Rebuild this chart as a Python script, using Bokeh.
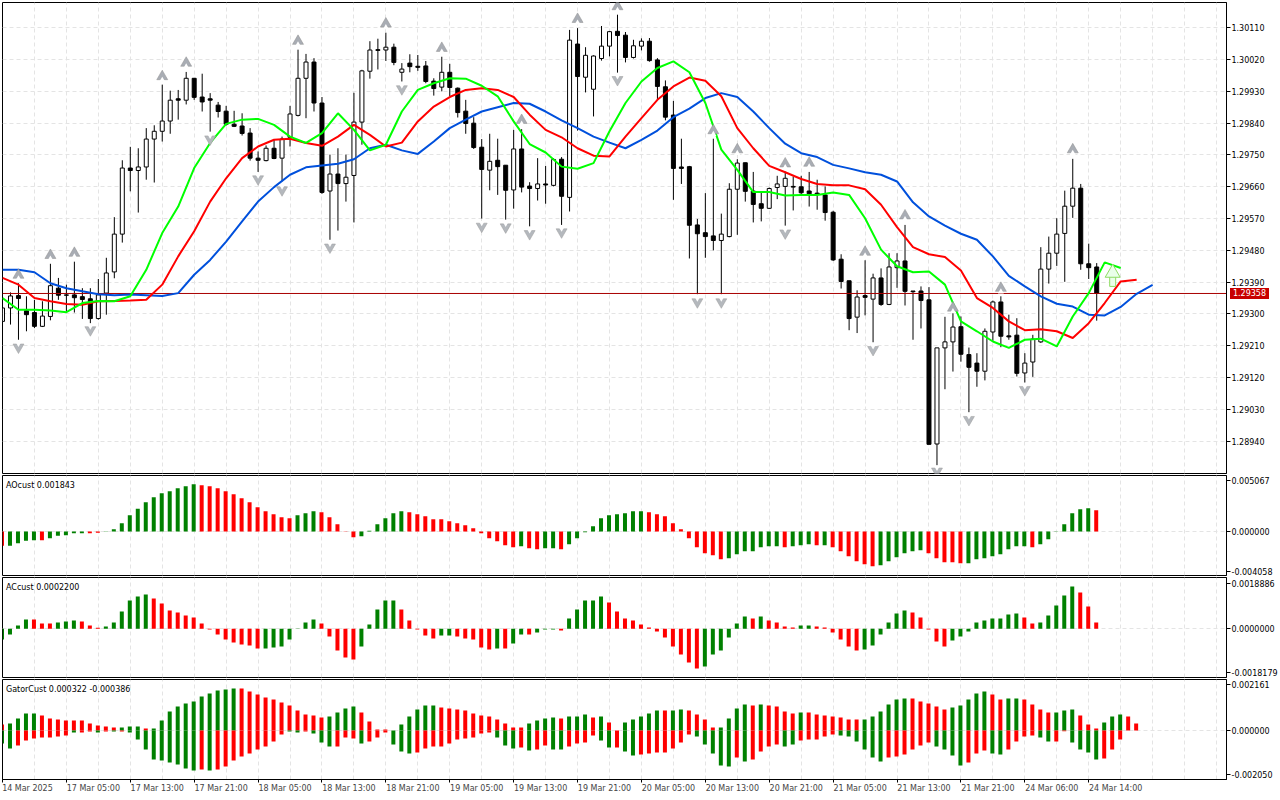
from bokeh.plotting import figure
from bokeh.layouts import column
from bokeh.embed import file_html
from bokeh.resources import INLINE
from bokeh.models import Range1d, FixedTicker, Grid, LinearAxis, Label, PrintfTickFormatter, Div
import numpy as np

# ---- price data, in points above 1.28000 (1 point = 0.00001) ----
open_pts = [1279,1317,1352,1309,1304,1265,1293,1373,1354,1354,1349,1343,1287,1359,1419,1526,1713,1706,1716,1795,
 1817,1846,1909,1905,1967,1914,1909,1891,1874,1837,1832,1812,1741,1734,1769,1741,1800,1862,1967,2013,
 1897,1648,1696,1669,1692,1843,1987,2048,2047,2055,1984,2010,2001,2002,1959,1942,1984,1939,1874,1840,
 1772,1707,1735,1721,1651,1767,1662,1655,1668,1664,1738,1630,2064,1970,1936,2023,2058,2100,2089,2026,
 2058,2072,2019,1943,1863,1716,1717,1552,1530,1521,1508,1519,1653,1728,1648,1612,1599,1658,1661,1661,
 1660,1648,1642,1637,1588,1455,1394,1291,1352,1342,1402,1327,1431,1450,1365,1365,1340,932,1204,1221,
 1264,1185,1161,1138,1249,1334,1238,1240,1133,1164,1221,1427,1472,1528,1605,1656,1442,1433]
high_pts = [1336,1361,1387,1350,1340,1336,1442,1402,1383,1448,1373,1373,1399,1459,1574,1735,1773,1769,1826,1834,
 1949,1932,1934,1985,1967,1980,1925,1900,1889,1875,1868,1826,1760,1777,1793,1802,1889,2048,2036,2024,
 1914,1751,1769,1751,1926,1991,2072,2079,2096,2065,2010,2035,2033,2016,1967,2028,2008,1941,1906,1857,
 1795,1810,1796,1721,1821,1823,1673,1741,1719,1741,1744,2104,2109,2055,2032,2115,2101,2147,2098,2076,
 2080,2081,2024,1961,1903,1796,1719,1569,1642,1796,1584,1670,1738,1728,1702,1645,1658,1691,1703,1689,
 1691,1702,1680,1661,1592,1469,1394,1367,1452,1414,1429,1472,1472,1552,1365,1378,1376,1204,1292,1331,
 1293,1205,1189,1259,1338,1350,1298,1288,1189,1241,1489,1519,1571,1649,1739,1668,1499,1444]
low_pts = [1260,1270,1227,1251,1260,1263,1282,1340,1307,1304,1286,1274,1284,1298,1401,1502,1647,1587,1680,1672,
 1788,1810,1850,1893,1906,1873,1816,1856,1833,1829,1805,1734,1702,1732,1738,1675,1774,1859,1854,1873,
 1640,1510,1536,1618,1559,1779,1966,1992,2016,2004,1958,1984,1988,1953,1918,1930,1916,1856,1810,1767,
 1570,1650,1637,1567,1598,1644,1548,1621,1612,1661,1552,1590,1819,1927,1859,2017,2029,1983,2012,2023,
 2046,2014,1906,1848,1623,1668,1457,1356,1459,1480,1356,1517,1524,1618,1559,1562,1597,1625,1550,1593,
 1637,1604,1595,1564,1450,1372,1254,1246,1296,1220,1323,1325,1374,1324,1227,1259,931,872,1087,1137,
 1165,1022,1094,1112,1224,1206,1227,1123,1106,1122,1218,1386,1436,1391,1572,1425,1399,1281]
close_pts = [1317,1351,1344,1298,1265,1294,1380,1353,1353,1346,1341,1287,1354,1416,1526,1713,1706,1716,1795,1817,
 1846,1905,1905,1967,1913,1900,1905,1873,1837,1831,1811,1741,1735,1769,1740,1795,1866,1967,2013,1897,
 1644,1696,1669,1687,1843,1988,2047,2046,2055,2012,1993,2000,1998,1958,1938,1984,1941,1870,1839,1771,
 1709,1732,1717,1650,1767,1659,1655,1668,1665,1737,1633,2075,1972,2032,2030,2058,2099,2088,2026,2059,
 2072,2017,1944,1857,1712,1712,1551,1527,1519,1508,1526,1653,1727,1647,1610,1599,1655,1668,1684,1659,
 1643,1640,1639,1587,1453,1392,1287,1348,1347,1402,1327,1433,1450,1364,1363,1338,931,1204,1221,1263,
 1186,1149,1138,1251,1334,1237,1235,1132,1161,1229,1427,1472,1526,1605,1656,1442,1431,1358]

# Alligator lines, one value every 2 bars, points above 1.28000
jaw_pts = [1425,1425,1418,1387,1373,1364,1356,1353,1355,1353,1351,1359,1411,1453,1505,1562,1618,1659,1694,1715,
 1720,1725,1738,1769,1779,1763,1753,1788,1826,1850,1873,1885,1897,1895,1873,1848,1826,1802,1785,1769,
 1793,1819,1857,1881,1911,1925,1914,1873,1826,1782,1755,1744,1722,1712,1701,1694,1675,1616,1576,1550,
 1527,1510,1463,1408,1378,1350,1329,1321,1298,1296,1320,1357,1382]
teeth_pts = [1402,1383,1345,1336,1328,1326,1336,1337,1338,1340,1383,1463,1534,1618,1684,1741,1774,1793,1796,1784,
 1776,1802,1835,1807,1774,1785,1845,1887,1914,1934,1939,1934,1914,1864,1821,1800,1769,1748,1746,1802,
 1854,1906,1944,1969,1960,1916,1826,1769,1719,1701,1682,1668,1664,1664,1653,1609,1546,1489,1469,1461,
 1423,1345,1317,1279,1254,1257,1251,1232,1274,1331,1392,1397]
lips_pts = [1345,1312,1312,1310,1305,1331,1337,1336,1350,1425,1529,1604,1713,1784,1838,1850,1852,1835,1802,1784,
 1812,1868,1821,1763,1779,1873,1934,1953,1967,1966,1946,1916,1845,1781,1757,1717,1711,1727,1817,1897,
 1958,1996,2015,1984,1897,1765,1708,1645,1645,1635,1637,1637,1644,1637,1571,1482,1435,1418,1420,1383,
 1279,1251,1222,1204,1227,1230,1208,1293,1359,1446,1430]

# Fractals: bar index and level, points above 1.28000
frac_up_idx = [2,6,9,20,23,37,48,55,65,72,77,89,92,98,101,108,113,119,125,134]
frac_up_pts = [1410,1466,1472,1972,2010,2072,2121,2052,1848,2134,2170,1819,1765,1725,1727,1475,1578,1317,1373,1765]
frac_dn_idx = [2,11,26,32,35,41,50,60,63,66,70,77,87,90,98,109,117,121,128]
frac_dn_pts = [1206,1255,1795,1682,1651,1489,1937,1548,1546,1527,1532,1963,1334,1334,1529,1199,855,1001,1086]
signal_idx = [139]
signal_pts = [1402]
last_price = 1.29358
price_ticks = [1.30110,1.30020,1.29930,1.29840,1.29750,1.29660,1.29570,1.29480,1.29390,1.29300,1.29210,1.29120,1.29030,1.28940]

# AO, in units of 0.000001
ao_vals = [-1333,-1333,-1085,-868,-806,-806,-620,-403,-341,-155,-155,-155,-124,-31,217,775,1519,2108,2728,3193,
 3565,3751,4030,4216,4402,4309,4216,4030,3751,3472,3100,2728,2263,1891,1612,1333,1240,1519,1705,1891,
 1798,1333,682,-31,-527,-434,62,682,1240,1705,
 1891,1798,1612,1426,1147,1147,961,775,589,310,-155,-620,-899,-1271,-1457,-1364,-1550,-1643,-1550,-1550,
 -1643,-1178,-620,-62,496,1240,1519,1612,1705,1891,1891,1798,1612,1426,775,217,-620,-1457,-2015,-2201,
 -2573,-2480,-2108,-1829,-1829,-1457,-1364,-1364,-1457,-1364,
 -1271,-1178,-1271,-1271,-1457,-1829,-2294,-2759,-3038,-3224,-3131,-2759,-2387,-2015,-1829,-1736,-2015,-2480,-2852,-2852,
 -2945,-2945,-2573,-2480,-2294,-2108,-1643,-1364,-1364,-1457,-1178,-713,-31,682,1705,2077,2170,1984]
ao_red = [0,5,11,12]+list(range(25,37))+[40,41,42,43,44]+list(range(51,65))+[66,67,70]+list(range(81,91))+[98,102]+list(range(104,110))+list(range(116,121))+[129,137]

# AC, in units of 0.0000001
ac_vals = [-4032,-2142,1260,3528,3528,2016,2016,2394,2772,3150,2772,1260,378,882,2394,6552,10710,12222,12978,11466,
 9576,6930,6174,5040,4284,2016,-252,-2142,-4032,-5166,-5922,-6300,-7434,-7434,-7056,-6678,-4032,126,2394,3528,
 2016,-2898,-8190,-10836,-11592,-6678,1638,7308,10710,10710,
 7308,3150,-252,-2520,-3654,-2520,-2520,-2898,-3654,-4032,-7056,-7812,-7434,-7434,-5544,-2142,-2142,-1386,-252,-252,
 -630,3906,7308,10710,10710,12222,9954,6552,3906,3150,1638,504,-1008,-3276,-6678,-9702,-12726,-14994,-14238,-9702,
 -8190,-3276,2016,4662,3906,4662,3150,2394,882,504,
 1260,1260,882,504,-1386,-4032,-6678,-8190,-7812,-6300,-2142,2394,5796,6930,6174,4284,-252,-4788,-6678,-4410,
 -2898,-1008,2394,3150,3906,3906,5418,5796,4284,2016,2394,5040,8820,12600,16002,13734,8442,2394]
ac_red = [4,5,6,10,11,12]+list(range(19,33))+[40,41,42,43,44,50,51,52,53,54,57,58,59,60,61,63,66,70]+list(range(76,88))+[94,96,97,98,99]+list(range(102,108))+list(range(114,119))+[128,129,135,136,137]

# Gator, in units of 0.000001
gator_up = [257,300,515,729,729,644,515,472,429,429,429,300,215,172,129,129,172,172,86,86,
 429,815,1030,1158,1244,1459,1587,1716,1759,1802,1802,1673,1544,1416,1330,1201,1073,858,686,644,
 558,601,772,944,1030,772,386,43,43,0,
 257,601,901,1073,1073,987,944,901,858,729,644,601,472,300,129,129,300,429,515,558,
 515,601,601,686,558,601,343,0,343,472,601,729,858,858,858,901,858,686,472,129,
 129,515,944,1115,1073,1115,1073,1030,815,729,
 772,772,686,644,601,558,472,472,472,601,815,1115,1330,1373,1373,1244,1158,1030,901,987,
 1073,1330,1587,1673,1544,1330,1373,1373,1330,1115,901,772,772,858,901,644,257,86,343,601,686,601,300]
gator_up_red = [0,5,6,7,8,9,10,11,12,13,14,18]+list(range(30,41))+[45,46,47,48]+list(range(55,66))+[70,74,76,83,86,87,88,89,94,96,97,98,99]+list(range(101,108))+list(range(114,119))+[124,125,128,129,130,131,135,136,137,141,142]
gator_dn = [558,772,644,429,343,300,300,257,215,86,86,43,86,43,43,43,86,386,815,1244,
 1287,1373,1459,1630,1716,1673,1716,1673,1544,1287,1115,987,815,686,472,172,43,86,43,129,
 515,686,686,300,343,558,472,300,86,601,
 901,987,944,772,686,686,558,386,343,300,129,86,300,644,772,729,858,815,644,815,
 815,686,558,515,215,429,729,729,901,1073,1030,987,944,944,772,515,172,257,601,987,
 1502,1544,1158,1330,1244,901,686,601,686,601,
 429,386,386,257,172,215,257,472,815,1158,1330,1158,1115,1030,815,644,515,686,815,1073,
 1502,1373,987,858,987,1030,815,472,257,215,300,472,472,29,515,815,944,1244,1201,815,386]
gator_dn_red = [2,3,4,5,6,7,8,10,11,13,15,25]+list(range(27,36))+[38,42,43,44,46,47,48]+list(range(52,62))+[65,67,68,71,72,73,74,77]+list(range(80,87))+[92,94,95,96,97,100,101,102,103,104]+list(range(111,117))+[121,122,123,126,127,128,129,132,133,138,139,140]

time_idx = [0,8,16,24,32,40,48,56,64,72,80,88,96,104,112,120,128,136]
time_labels = ["14 Mar 2025","17 Mar 05:00","17 Mar 13:00","17 Mar 21:00","18 Mar 05:00","18 Mar 13:00","18 Mar 21:00",
 "19 Mar 05:00","19 Mar 13:00","19 Mar 21:00","20 Mar 05:00","20 Mar 13:00","20 Mar 21:00",
 "21 Mar 05:00","21 Mar 13:00","21 Mar 21:00","24 Mar 06:00","24 Mar 14:00"]

# ---- layout constants ----
FONT = "DejaVu Sans Condensed"
FS = "8.9px"
GRID = "#e4e4e4"
GREEN, RED = "#008000", "#ff0000"
X0, X1 = 0.0, 153.25          # frame runs 2..1228 px, 8 px per bar
HALF_PX = 1 / 16              # half a pixel in bars, keeps filled bars on whole pixels
xr = Range1d(X0, X1)
GRID_TICKS = list(range(4, 154, 4))

def price(a):
    return 1.28 + np.asarray(a, dtype=float) * 1e-5

def make(h, yr, bottom=1):
    p = figure(width=1280, height=h, x_range=xr, y_range=yr, output_backend="svg", toolbar_location=None,
               x_axis_location=None, y_axis_location="right", min_border_left=2, min_border_right=52,
               min_border_top=1, min_border_bottom=bottom, background_fill_color="white", border_fill_color="white")
    p.grid.visible = False
    p.outline_line_color = "black"
    p.outline_line_width = 1
    p.outline_line_alpha = 1
    p.add_layout(Grid(dimension=0, ticker=FixedTicker(ticks=GRID_TICKS), grid_line_color=GRID, grid_line_dash="4 3"))
    ax = p.yaxis[0]
    ax.axis_line_color = "black"
    ax.major_tick_in = 0
    ax.major_tick_out = 4
    ax.minor_tick_out = 0
    ax.minor_tick_in = 0
    ax.major_tick_line_color = "black"
    ax.major_label_standoff = 1
    ax.major_label_text_font = FONT
    ax.major_label_text_font_size = FS
    ax.major_label_text_color = "black"
    return p

# ---- main panel: frame 2..473 px ----
pm = make(474, Range1d(price(848.5), price(2181.5)))
pm.min_border_top = 2
ax = pm.yaxis[0]
ax.ticker = FixedTicker(ticks=price_ticks)
ax.formatter = PrintfTickFormatter(format="%.5f")
pm.add_layout(Grid(dimension=1, ticker=FixedTicker(ticks=price_ticks), grid_line_color=GRID, grid_line_dash="4 3"))

o, h, l, c = map(price, (open_pts, high_pts, low_pts, close_pts))
idx = np.arange(len(o))
pm.segment(idx, h, idx, l, line_color="black", line_width=1)
up = c >= o
pm.vbar(idx[up], 0.5, o[up], c[up], fill_color="white", line_color="black", line_width=1)
pm.vbar(idx[~up], 0.5, c[~up], o[~up], fill_color="black", line_color="black", line_width=1)

pm.segment([X0], [last_price], [X1], [last_price], line_color="#a80000", line_width=1)

for vals, col in ((jaw_pts, "#0050dc"), (teeth_pts, "#ff0000"), (lips_pts, "#00ff00")):
    pm.line(np.arange(len(vals)) * 2, price(vals), line_color=col, line_width=2)

# fractal arrows
fu, fd = np.array(frac_up_pts, float), np.array(frac_dn_pts, float)
notch = 3.6 * 2.83
pm.scatter(frac_up_idx, price(fu), marker="triangle", size=11, fill_color="#a9adb4", line_color="#8e8e8e", line_width=0.5)
pm.scatter(frac_up_idx, price(fu - notch), marker="triangle", size=6, fill_color="white", line_color=None)
pm.scatter(frac_dn_idx, price(fd), marker="inverted_triangle", size=11, fill_color="#b4b8bd", line_color="#9a9a9a", line_width=0.5)
pm.scatter(frac_dn_idx, price(fd + notch), marker="inverted_triangle", size=6, fill_color="white", line_color=None)

# signal arrow (rising)
sig = np.array(signal_pts, float)
pm.rect(signal_idx, price(sig - 3 * 2.83), width=6, height=11, width_units="screen", height_units="screen",
        fill_color="#eaffea", line_color="#8fdc64", line_width=1)
pm.scatter(signal_idx, price(sig + 5 * 2.83), marker="triangle", size=15, fill_color="#eaffea", line_color="#8fdc64", line_width=1)

# ---- sub panels ----
def bars(p, vals, red):
    vals = np.asarray(vals, float)
    i = np.arange(len(vals))
    rs = set(red)
    cols = [RED if k in rs else GREEN for k in i]
    p.vbar(i - HALF_PX, 0.5, vals, 0, fill_color=cols, line_color=None)

def title(p, text, y):
    p.add_layout(Label(x=0.4375, y=y, text=text, text_font=FONT, text_font_size=FS, text_color="black",
                       text_baseline="middle", text_align="left"))

def zero_grid(p):
    p.add_layout(Grid(dimension=1, ticker=FixedTicker(ticks=[0]), grid_line_color=GRID, grid_line_dash="4 3"))

def sub_axis(p, tick_vals, labels):
    ax = p.yaxis[0]
    ax.ticker = FixedTicker(ticks=tick_vals)
    ax.major_label_overrides = dict(zip(tick_vals, labels))

# AO: 0.0000931 per px, zero at y=531
AOS = 0.0000931
pa = make(102, Range1d(-44 * AOS, 56 * AOS))
zero_grid(pa)
bars(pa, np.array(ao_vals) * 1e-6, ao_red)
sub_axis(pa, [51 * AOS, 0.0, -39.5 * AOS], ["0.005067", "0.000000", "-0.004058"])
title(pa, "AOcust 0.001843", 47 * AOS)

# AC: 0.0000378 per px, zero at y=628.3
ACS = 0.0000378
pc = make(102, Range1d(-48.7 * ACS, 51.3 * ACS))
zero_grid(pc)
bars(pc, np.array(ac_vals) * 1e-7, ac_red)
sub_axis(pc, [45.6 * ACS, 0.0, -43.4 * ACS], ["0.0018886", "0.0000000", "-0.0018179"])
title(pc, "ACcust 0.0002200", 42.3 * ACS)

# Gator: 0.000043 per px, zero at y=730; bottom band holds the time axis
GS = 0.000043
pg = make(122, Range1d(-49 * GS, 51 * GS), bottom=21)
zero_grid(pg)
bars(pg, np.array(gator_up) * 1e-6, gator_up_red)
bars(pg, -np.array(gator_dn) * 1e-6, gator_dn_red)
sub_axis(pg, [45.7 * GS, 0.0, -43.7 * GS], ["0.002161", "0.000000", "-0.002050"])
title(pg, "GatorCust 0.000322 -0.000386", 42 * GS)

# time axis: one axis draws the tick marks at the bars, a second one below it carries the labels,
# whose ticks sit half a label to the right so that each text starts at its bar
tick_axis = LinearAxis(ticker=FixedTicker(ticks=time_idx), major_label_overrides={t: "" for t in time_idx},
                       major_tick_in=0, major_tick_out=3, minor_tick_out=0, minor_tick_in=0,
                       major_label_standoff=0, major_label_text_font_size="1px",
                       axis_line_color="black", major_tick_line_color="black")
pg.add_layout(tick_axis, "below")
HALF_LABEL = 27 / 8
label_pos = [t + (25 / 8 if t == 0 else HALF_LABEL) for t in time_idx]
label_axis = LinearAxis(ticker=FixedTicker(ticks=label_pos), major_label_overrides=dict(zip(label_pos, time_labels)),
                        major_tick_in=0, major_tick_out=0, minor_tick_out=0, minor_tick_in=0,
                        major_label_standoff=0, major_label_text_font=FONT, major_label_text_font_size=FS,
                        axis_line_color=None, major_tick_line_color=None)
pg.add_layout(label_axis, "below")

# last price tag over the axis band
tag = Div(text="%.5f" % last_price, width=39, height=11, margin=0,
          styles={"position": "absolute", "left": "1230px", "top": "288px", "background-color": "#c80000",
                  "color": "white", "font-family": FONT, "font-size": FS, "line-height": "11px",
                  "text-align": "center", "z-index": "10"})

page = column(pm, pa, pc, pg, tag, spacing=0)
open("out.html", "w").write(file_html(page, INLINE))
